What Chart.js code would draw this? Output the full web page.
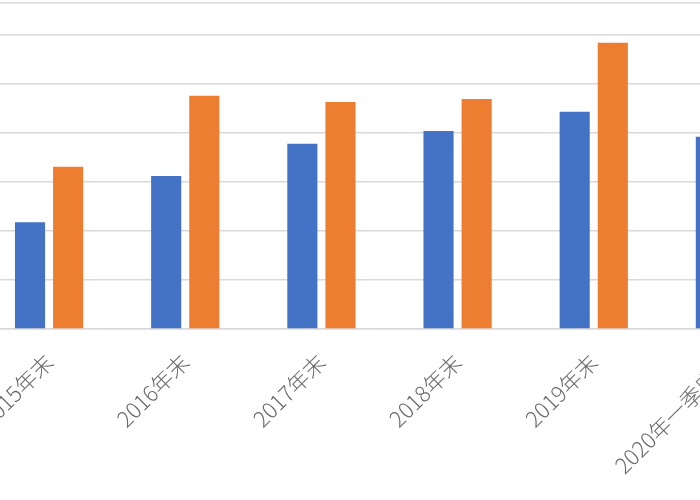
<!DOCTYPE html>
<html>
<head>
<meta charset="utf-8">
<script src="https://cdn.jsdelivr.net/npm/chart.js@4"></script>
<style>
  html, body { margin: 0; padding: 0; width: 700px; height: 500px; overflow: hidden; background: #fff; }
  #wrap { position: absolute; left: -19px; top: 0; width: 817px; height: 500px; }
</style>
</head>
<body>
<div id="wrap"><canvas id="c" width="817" height="500"></canvas></div>
<script>
const categories = ['2015年末', '2016年末', '2017年末', '2018年末', '2019年末', '2020年一季度末'];
const seriesA = [2.18, 3.12, 3.78, 4.04, 4.43, 3.92];
const seriesB = [3.31, 4.76, 4.63, 4.69, 5.84, 5.10];
const seriesNames = ['系列1', '系列2'];
const yMax = 6.65;

new Chart(document.getElementById('c'), {
  type: 'bar',
  data: {
    labels: categories,
    datasets: [
      { label: seriesNames[0], data: seriesA, backgroundColor: '#4472C4', categoryPercentage: 0.56, barPercentage: 0.79 },
      { label: seriesNames[1], data: seriesB, backgroundColor: '#ED7D31', categoryPercentage: 0.56, barPercentage: 0.79 }
    ]
  },
  options: {
    responsive: false,
    animation: false,
    layout: { padding: { top: 3, left: 0, right: 0, bottom: 0 } },
    plugins: { legend: { display: false }, tooltip: { enabled: false } },
    scales: {
      x: {
        grid: { display: false, drawTicks: false },
        border: { display: true, color: '#d9d9d9', width: 1.5 },
        ticks: {
          color: '#6a6a6a',
          font: { family: '"Noto Sans CJK SC", sans-serif', size: 22, weight: 300 },
          minRotation: 45, maxRotation: 45,
          labelOffset: 0,
          padding: 20,
          autoSkip: false
        },
        afterFit: (s) => { s.height = 171; s.paddingLeft = 0; s.paddingRight = 0; }
      },
      y: {
        min: 0, max: yMax,
        ticks: { display: false, stepSize: 1 },
        grid: { color: '#d9d9d9', lineWidth: 1.5, drawTicks: false },
        border: { display: false },
        afterFit: (s) => { s.width = 0; s.paddingTop = 0; s.paddingBottom = 0; }
      }
    }
  }
});
</script>
</body>
</html>
